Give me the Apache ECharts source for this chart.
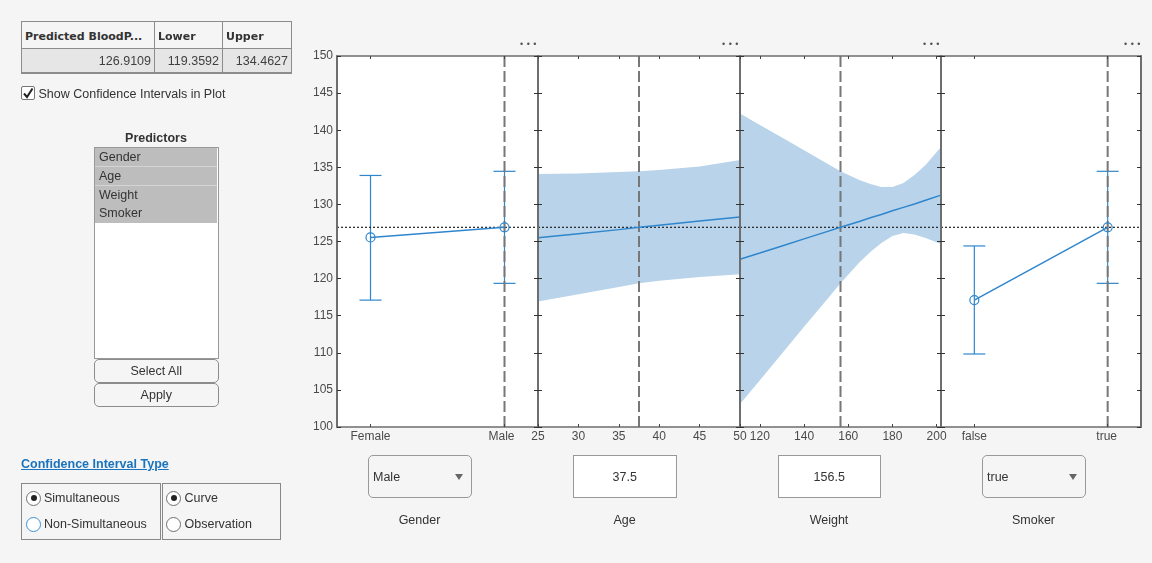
<!DOCTYPE html>
<html>
<head>
<meta charset="utf-8">
<title>Predictor slice plot</title>
<script src="https://cdn.jsdelivr.net/npm/echarts@6/dist/echarts.min.js"></script>
<style>
html, body { margin: 0; padding: 0; background: #f5f5f5; overflow: hidden; }
body { width: 1152px; height: 563px; position: relative; font: 12.5px "Liberation Sans", Arial, sans-serif; color: #333; }
#layout { position: absolute; left: 0; top: 0; width: 1152px; height: 563px; }
.ui { position: absolute; box-sizing: border-box; white-space: nowrap; }
.cell { border: 1px solid #8c8c8c; line-height: 20px; }
.th { font: bold 11px "DejaVu Sans", sans-serif; line-height: 20px; background: #f5f5f5; padding: 5px 0 0 3px; border-bottom-width: 2px; }
.td { background: #e6e6e6; text-align: right; padding: 2px 3px 0 0; color: #404040; border-bottom-width: 2px; border-top: 0; }
.item { left: 95px; width: 122px; background: #bdbdbd; padding-left: 4px; height: 19px; line-height: 18px; }
.item.sep { border-bottom: 1px solid #d4d4d4; }
.btn { left: 94px; width: 124.5px; height: 24px; border: 1px solid #8c8c8c; border-radius: 5px; text-align: center; line-height: 22px; background: #f5f5f5; }
.radio { width: 15px; height: 15px; border: 1px solid #6f6f6f; border-radius: 50%; background: #fff; }
.radio.on::after { content: ""; position: absolute; left: 3.5px; top: 3.5px; width: 6px; height: 6px; border-radius: 50%; background: #222; }
.field { top: 455px; width: 103.5px; height: 43px; border: 1px solid #999; line-height: 42px; }
.field.num { background: #fff; text-align: center; }
.field.drop { border-radius: 5px; padding-left: 4px; }
.field.drop::after { content: ""; position: absolute; right: 7.5px; top: 17.5px; border-left: 4.5px solid transparent; border-right: 4.5px solid transparent; border-top: 6px solid #666; }
.name { top: 513px; width: 103px; text-align: center; }
.more { top: 38px; width: 24px; text-align: center; font-size: 9px; letter-spacing: 3.5px; color: #555; line-height: 12px; }
</style>
</head>
<body>
<div id="layout"></div>

<div class="ui cell th" style="left:21px;top:21px;width:134px;height:29px;">Predicted BloodP...</div>
<div class="ui cell th" style="left:154px;top:21px;width:69px;height:29px;">Lower</div>
<div class="ui cell th" style="left:222px;top:21px;width:70px;height:29px;">Upper</div>
<div class="ui cell td" style="left:21px;top:49px;width:134px;height:25px;">126.9109</div>
<div class="ui cell td" style="left:154px;top:49px;width:69px;height:25px;">119.3592</div>
<div class="ui cell td" style="left:222px;top:49px;width:70px;height:25px;">134.4627</div>

<div class="ui" style="left:21px;top:86px;width:14px;height:14px;border:1px solid #777;background:#fff;border-radius:2px;">
  <svg width="12" height="12" style="display:block"><path d="M2 6.5 L5 10 L10.5 1.5" fill="none" stroke="#222" stroke-width="2"/></svg>
</div>
<div class="ui" style="left:38.5px;top:86px;line-height:16px;">Show Confidence Intervals in Plot</div>

<div class="ui" style="left:94px;top:131px;width:124px;text-align:center;font-weight:bold;line-height:14px;">Predictors</div>
<div class="ui" style="left:94px;top:147px;width:125px;height:212px;border:1px solid #999;background:#fff;"></div>
<div class="ui item sep" style="top:148px;">Gender</div>
<div class="ui item sep" style="top:167px;">Age</div>
<div class="ui item" style="top:186px;">Weight</div>
<div class="ui item" style="top:204px;">Smoker</div>
<div class="ui btn" style="top:359px;">Select All</div>
<div class="ui btn" style="top:383px;">Apply</div>

<div class="ui" style="left:21px;top:457px;font-weight:bold;color:#1a73bd;text-decoration:underline;line-height:14px;">Confidence Interval Type</div>
<div class="ui" style="left:21px;top:483px;width:140px;height:57px;border:1px solid #888;"></div>
<div class="ui" style="left:162px;top:483px;width:119px;height:57px;border:1px solid #888;"></div>
<div class="ui radio on" style="left:26px;top:490.5px;"></div>
<div class="ui" style="left:44px;top:490px;line-height:16px;">Simultaneous</div>
<div class="ui radio" style="left:26px;top:516.5px;border-color:#3b8fd4;"></div>
<div class="ui" style="left:44px;top:516px;line-height:16px;">Non-Simultaneous</div>
<div class="ui radio on" style="left:166px;top:490.5px;"></div>
<div class="ui" style="left:184.5px;top:490px;line-height:16px;">Curve</div>
<div class="ui radio" style="left:166px;top:516.5px;"></div>
<div class="ui" style="left:184.5px;top:516px;line-height:16px;">Observation</div>

<div class="ui more" style="left:518px;">•••</div>
<div class="ui more" style="left:720px;">•••</div>
<div class="ui more" style="left:921px;">•••</div>
<div class="ui more" style="left:1122px;">•••</div>

<div class="ui field drop" style="left:368px;">Male</div>
<div class="ui field num" style="left:573px;">37.5</div>
<div class="ui field num" style="left:777.5px;">156.5</div>
<div class="ui field drop" style="left:982px;">true</div>
<div class="ui name" style="left:368px;">Gender</div>
<div class="ui name" style="left:573px;">Age</div>
<div class="ui name" style="left:777.5px;">Weight</div>
<div class="ui name" style="left:982px;">Smoker</div>

<script>
// predicted response and its current value
const predicted = 126.9109;
const yTicks = [100, 105, 110, 115, 120, 125, 130, 135, 140, 145, 150];

// gender panel
const genderLabels = ['Female', 'Male'];
const genderX = [1, 2];
const genderFit = [125.55, 126.91];
const genderLower = [117.1, 119.36];
const genderUpper = [133.9, 134.46];
const genderCurrent = 2;

// age panel
const ageTicks = [25, 30, 35, 40, 45, 50];
const ageX = [25, 30, 35, 37.5, 40, 45, 50];
const ageFit = [125.5, 126.05, 126.6, 126.91, 127.2, 127.75, 128.3];
const ageLower = [116.9, 117.9, 118.87, 119.36, 119.7, 120.2, 120.6];
const ageUpper = [134.1, 134.16, 134.37, 134.46, 134.64, 135.1, 136.0];
const ageCurrent = 37.5;

// weight panel
const weightTicks = [120, 140, 160, 180, 200];
const weightX = [111, 120, 130, 140, 150, 156.5, 165, 170, 175, 180, 185, 190, 195, 202];
const weightFit = [122.6, 123.45, 124.4, 125.35, 126.3, 126.91, 127.7, 128.2, 128.65, 129.15, 129.6, 130.05, 130.55, 131.25];
const weightLower = [103.1, 106.3, 109.9, 113.5, 117.06, 119.36, 122.17, 123.58, 124.8, 125.74, 126.15, 125.94, 125.47, 124.66];
const weightUpper = [142.25, 140.7, 139.0, 137.29, 135.58, 134.46, 133.29, 132.75, 132.35, 132.35, 132.9, 133.96, 135.3, 137.75];
const weightCurrent = 156.5;

// smoker panel
const smokerLabels = ['false', 'true'];
const smokerX = [1, 2];
const smokerFit = [117.1, 126.91];
const smokerLower = [109.84, 119.36];
const smokerUpper = [124.4, 134.46];
const smokerCurrent = 2;

const BLUE = '#2f86cc';
const BAND = '#b8d3ea';
const AXIS = '#6e6e6e';
const TEXT = '#4a4a4a';

const panels = [
    {left: 337, width: 201, min: 0.75, max: 2.25, ticks: genderX, names: genderLabels, current: genderCurrent,
     x: genderX, fit: genderFit, lower: genderLower, upper: genderUpper, discrete: true, nudge: 6},
    {left: 538, width: 202, min: 25, max: 50, ticks: ageTicks, current: ageCurrent,
     x: ageX, fit: ageFit, lower: ageLower, upper: ageUpper},
    {left: 740, width: 201, min: 111, max: 202, ticks: weightTicks, current: weightCurrent,
     x: weightX, fit: weightFit, lower: weightLower, upper: weightUpper},
    {left: 941, width: 200, min: 0.75, max: 2.25, ticks: smokerX, names: smokerLabels, current: smokerCurrent,
     x: smokerX, fit: smokerFit, lower: smokerLower, upper: smokerUpper, discrete: true, nudge: 2}
];

function errorBars(params, api) {
    let x = api.value(0);
    let low = api.coord([x, api.value(1)]);
    let high = api.coord([x, api.value(2)]);
    let cap = 11;
    let style = {stroke: BLUE, lineWidth: 1.2, fill: null};
    return {
        type: 'group',
        children: [
            {type: 'line', shape: {x1: low[0], y1: low[1], x2: high[0], y2: high[1]}, style: style},
            {type: 'line', shape: {x1: low[0] - cap, y1: low[1], x2: low[0] + cap, y2: low[1]}, style: style},
            {type: 'line', shape: {x1: high[0] - cap, y1: high[1], x2: high[0] + cap, y2: high[1]}, style: style}
        ]
    };
}

// one polygon running along the upper edge and back along the lower edge
function bandShape(p) {
    return function(params, api) {
        if (params.dataIndex !== 0) return null;
        let top = p.x.map(function(x, k) { return api.coord([x, p.upper[k]]); });
        let bottom = p.x.map(function(x, k) { return api.coord([x, p.lower[k]]); }).reverse();
        return {type: 'polygon', shape: {points: top.concat(bottom)}, style: {fill: BAND}};
    };
}

let grids = [], xAxes = [], yAxes = [], series = [];
panels.forEach(function(p, i) {
    grids.push({left: p.left, width: p.width, top: 56, height: 371, show: true, backgroundColor: '#fff', borderWidth: 0});

    let xBase = {
        type: 'value', gridIndex: i, min: p.min, max: p.max, z: 5,
        splitLine: {show: false},
        axisLine: {show: true, onZero: false, lineStyle: {color: AXIS, width: 1.5}},
        axisTick: {show: true, inside: true, length: 3, customValues: p.ticks, lineStyle: {color: '#444', width: 1}}
    };
    xAxes.push(Object.assign({}, xBase, {
        position: 'bottom',
        axisLabel: {
            show: true, margin: 4, color: TEXT, fontSize: 12, fontFamily: 'Liberation Sans', hideOverlap: false,
            customValues: p.ticks,
            formatter: function(v) {
                if (!p.names) return String(v);
                return v === 2 ? '{shift|' + p.names[1] + '}' : p.names[v - 1];
            },
            rich: {shift: {padding: [0, p.nudge || 0, 0, 0], color: TEXT, fontSize: 12, fontFamily: 'Liberation Sans'}}
        }
    }));
    xAxes.push(Object.assign({}, xBase, {position: 'top', axisLabel: {show: false}}));

    let yBase = {
        type: 'value', gridIndex: i, min: 100, max: 150, z: 5,
        splitLine: {show: false},
        axisLine: {show: true, onZero: false, lineStyle: {color: AXIS, width: 2}},
        axisTick: {show: true, inside: true, length: 4, customValues: yTicks, lineStyle: {color: '#333', width: 1}}
    };
    yAxes.push(Object.assign({}, yBase, {
        position: 'left',
        axisLabel: {show: i === 0, margin: 4, color: TEXT, fontSize: 12, fontFamily: 'Liberation Sans', customValues: yTicks}
    }));
    yAxes.push(Object.assign({}, yBase, {position: 'right', axisLabel: {show: false}}));

    let common = {xAxisIndex: i * 2, yAxisIndex: i * 2, animation: false, silent: true};

    if (p.discrete) {
        series.push(Object.assign({}, common, {
            type: 'custom', z: 3, renderItem: errorBars,
            encode: {x: 0, y: [1, 2]},
            data: p.x.map(function(x, k) { return [x, p.lower[k], p.upper[k]]; })
        }));
    } else {
        series.push(Object.assign({}, common, {
            type: 'custom', z: 1, renderItem: bandShape(p),
            encode: {x: 0, y: [1, 2]},
            data: p.x.map(function(x, k) { return [x, p.lower[k], p.upper[k]]; })
        }));
    }

    // fitted curve
    series.push(Object.assign({}, common, {
        type: 'line', z: 4,
        symbol: p.discrete ? 'circle' : 'none', symbolSize: 9,
        itemStyle: {color: 'rgba(0,0,0,0)', borderColor: BLUE, borderWidth: 1.2},
        lineStyle: {color: BLUE, width: 1.5},
        data: p.x.map(function(x, k) { return [x, p.fit[k]]; })
    }));
    // current predicted value
    series.push(Object.assign({}, common, {
        type: 'line', z: 3, symbol: 'none',
        lineStyle: {color: '#222', width: 1.2, type: [2, 2]},
        data: [[p.min, predicted], [p.max, predicted]]
    }));
    // current predictor value
    series.push(Object.assign({}, common, {
        type: 'line', z: 3, symbol: 'none',
        lineStyle: {color: '#777', width: 2, type: [11, 4]},
        data: [[p.current, 150], [p.current, 100]]
    }));
});

let myChart = echarts.init(document.getElementById('layout'));
myChart.setOption({
    animation: false,
    backgroundColor: '#f5f5f5',
    grid: grids,
    xAxis: xAxes,
    yAxis: yAxes,
    series: series
});
</script>
</body>
</html>
